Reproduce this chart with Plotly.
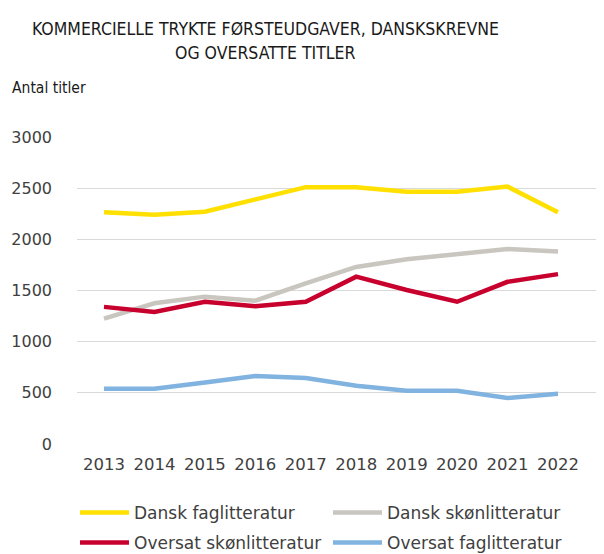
import plotly.graph_objects as go

years = [2013, 2014, 2015, 2016, 2017, 2018, 2019, 2020, 2021, 2022]
dansk_fag = [2265, 2240, 2270, 2390, 2510, 2510, 2465, 2465, 2515, 2265]
dansk_skon = [1225, 1375, 1440, 1400, 1570, 1730, 1805, 1855, 1905, 1880]
oversat_skon = [1340, 1290, 1390, 1345, 1390, 1635, 1505, 1390, 1585, 1660]
oversat_fag = [540, 540, 600, 665, 645, 570, 520, 520, 450, 490]
y_ticks = [0, 500, 1000, 1500, 2000, 2500, 3000]
title_lines = ["KOMMERCIELLE TRYKTE FØRSTEUDGAVER, DANSKSKREVNE", "OG OVERSATTE TITLER"]

series = [
    ("Dansk faglitteratur", dansk_fag, "#FFE000", "legend"),
    ("Dansk skønlitteratur", dansk_skon, "#C9C6C0", "legend"),
    ("Oversat skønlitteratur", oversat_skon, "#C8002E", "legend2"),
    ("Oversat faglitteratur", oversat_fag, "#80B3DF", "legend2"),
]

# page body has an 8px margin; figure is sized/positioned to compensate
W, H = 596, 546
L, R, T, B = 69, 0, 129, 110
PW, PH = W - L - R, H - T - B

fig = go.Figure()
for name, vals, col, lg in series:
    fig.add_trace(go.Scatter(x=years, y=vals, name=name, mode="lines", legend=lg,
                             line=dict(color=col, width=4.5)))

leg_common = dict(orientation="h", xref="container", yref="container",
                  xanchor="left", yanchor="middle",
                  entrywidth=189, entrywidthmode="pixels", itemwidth=49,
                  traceorder="normal", bgcolor="rgba(0,0,0,0)",
                  font=dict(family="DejaVu Sans", size=17, color="#404040"))

title_font = dict(family="DejaVu Sans Condensed", size=17.5, color="#1a1a1a")
annotations = []
for txt, fy in zip(title_lines, [20.5, 44.5]):
    annotations.append(dict(text=txt, xref="paper", yref="paper",
                            x=(257 - L) / PW, y=(H - B - fy) / PH,
                            xanchor="center", yanchor="middle", showarrow=False,
                            font=title_font))
annotations.append(dict(text="Antal titler", xref="paper", yref="paper",
                        x=(2 - L) / PW, y=(H - B - 80) / PH, xanchor="left", yanchor="middle",
                        showarrow=False,
                        font=dict(family="DejaVu Sans Condensed", size=15.5, color="#1a1a1a")))

fig.update_layout(
    width=W, height=H,
    margin=dict(l=L, r=R, t=T, b=B),
    plot_bgcolor="white", paper_bgcolor="white",
    font=dict(family="DejaVu Sans", color="#404040"),
    xaxis=dict(range=[2012.465, 2022.912], tickvals=years, ticktext=[str(y) for y in years],
               showgrid=False, zeroline=False, showline=False,
               tickfont=dict(size=16.5, color="#404040"), ticks="", ticklabelstandoff=8),
    yaxis=dict(range=[0, 3000], tickvals=y_ticks, showgrid=True, gridcolor="#D9D9D9",
               gridwidth=1.3, zeroline=False, showline=False,
               tickfont=dict(size=16, color="#404040"), ticks="", ticklabelstandoff=24),
    showlegend=True,
    legend=dict(leg_common, x=67 / W, y=1 - 505 / H),
    legend2=dict(leg_common, x=67 / W, y=1 - 535 / H),
    annotations=annotations,
)

fig.write_html("out.html")
